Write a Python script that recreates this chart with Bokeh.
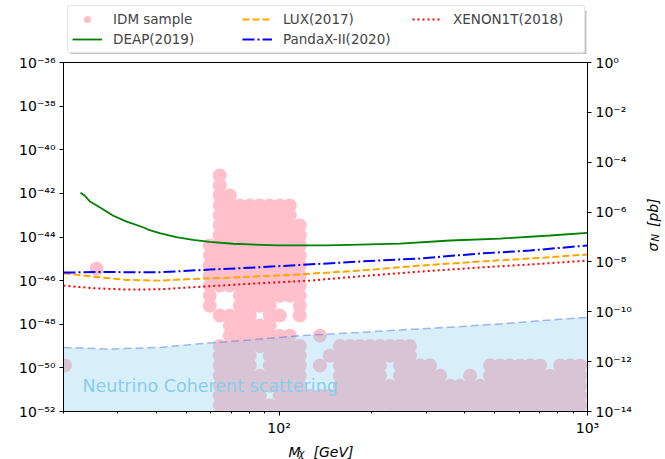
import math
from bokeh.plotting import figure
from bokeh.layouts import column, row
from bokeh.models import (Range1d, LogScale, LogAxis, FixedTicker, Label, Legend,
                          LegendItem, CustomJSTickFormatter)
from bokeh.core.properties import value
from bokeh.embed import file_html
from bokeh.resources import INLINE

# ---------------- data ----------------
x_ticks = [100, 1000]
x_minor_ticks = [20, 30, 40, 50, 60, 70, 80, 90, 200, 300, 400, 500, 600, 700, 800, 900]
y_ticks_cm2 = [1e-52, 1e-50, 1e-48, 1e-46, 1e-44, 1e-42, 1e-40, 1e-38, 1e-36]
y_ticks_pb = [1e-14, 1e-12, 1e-10, 1e-08, 1e-06, 1e-04, 1e-02, 1.0]

deap_mass = [22.7, 23.4, 24.3, 26.2, 28.9, 31.9, 36.2, 37.6, 41.0, 46.4, 52.6, 59.6,
             70.9, 98.1, 142.5, 182.8, 246.6, 358.3, 520.7, 756.7, 1000]
deap_sigma = [1.07e-42, 8.0e-43, 4.4e-43, 2.3e-43, 9.7e-44, 5.2e-44, 2.8e-44, 2.2e-44,
              1.5e-44, 9.8e-45, 7.4e-45, 6.0e-45, 4.9e-45, 4.1e-45, 4.1e-45, 4.5e-45,
              5.0e-45, 6.9e-45, 8.5e-45, 1.17e-44, 1.56e-44]

lux_mass = [20, 24.9, 31.9, 41.0, 52.6, 67.5, 111.0, 182.8, 286.3, 448.3, 651.6, 1000]
lux_sigma = [2.18e-46, 1.53e-46, 1.08e-46, 1.0e-46, 1.2e-46, 1.34e-46, 1.84e-46, 2.9e-46,
             4.9e-46, 7.5e-46, 1.03e-45, 1.57e-45]

pandax_mass = [20, 26.2, 41.0, 59.6, 86.6, 182.8, 286.3, 448.3, 651.6, 1000]
pandax_sigma = [2.34e-46, 2.47e-46, 2.42e-46, 3.2e-46, 4.1e-46, 7.5e-46, 1.03e-45,
                1.75e-45, 2.4e-45, 4.1e-45]

xenon_mass = [20, 24.9, 31.9, 41.0, 52.6, 86.6, 125.8, 182.8, 286.3, 448.3, 651.6, 1000]
xenon_sigma = [5.9e-47, 4.5e-47, 3.9e-47, 4.0e-47, 5.0e-47, 7.6e-47, 1.0e-46, 1.58e-46,
               2.6e-46, 4.0e-46, 5.5e-46, 8.3e-46]

floor_mass = [20, 28.2, 41.0, 55.3, 80.3, 116.7, 169.6, 246.6, 386.2, 548.7, 702.1, 1000]
floor_sigma = [8.7e-50, 7.3e-50, 8.7e-50, 1.29e-49, 1.9e-49, 3.0e-49, 4.0e-49, 5.5e-49,
               7.8e-49, 1.1e-48, 1.46e-48, 2.07e-48]
floor_bottom = 1e-52

# IDM sample points, listed column by column (mass in GeV, sigma in cm^2)
idm_column_mass = [59.6, 64.2, 69.2, 74.6, 80.3, 86.6, 93.3, 100.5, 108.3, 116.7,
                   125.8, 135.6, 146.0, 157.4, 169.6, 182.8, 197.0, 212.3, 228.8, 246.6,
                   265.7, 286.3, 308.6, 332.5, 358.3, 386.2, 416.1, 448.3, 483.2, 520.7,
                   561.0, 604.6, 651.6, 702.1, 756.7, 815.4, 878.6, 946.9]
idm_column_sigma = [
    [4.1e-45, 1.4e-45, 4.9e-46, 1.7e-46, 5.9e-47, 2.0e-47, 7.1e-48],
    [6.6e-42, 2.3e-42, 8.1e-43, 2.8e-43, 9.8e-44, 3.4e-44, 1.2e-44, 4.1e-45, 1.4e-45, 4.9e-46,
     1.7e-46, 5.9e-47, 2.5e-48, 1.0e-49, 3.6e-50, 1.3e-50, 4.4e-51, 1.5e-51, 5.3e-52, 1.9e-52],
    [8.1e-43, 2.8e-43, 9.8e-44, 3.4e-44, 1.2e-44, 4.1e-45, 1.4e-45, 4.9e-46, 1.7e-46, 5.9e-47,
     2.5e-48, 8.7e-49, 3.0e-49, 1.0e-49, 3.6e-50, 1.3e-50, 4.4e-51, 1.5e-51, 5.3e-52, 1.9e-52],
    [2.8e-43, 9.8e-44, 3.4e-44, 1.2e-44, 4.1e-45, 1.4e-45, 4.9e-46, 1.7e-46, 5.9e-47, 2.0e-47,
     7.1e-48, 2.5e-48, 8.7e-49, 3.0e-49, 1.0e-49, 3.6e-50, 1.3e-50, 4.4e-51, 1.5e-51, 5.3e-52, 1.9e-52],
    [2.8e-43, 9.8e-44, 3.4e-44, 1.2e-44, 4.1e-45, 1.4e-45, 4.9e-46, 1.7e-46, 5.9e-47, 2.0e-47,
     7.1e-48, 2.5e-48, 8.7e-49, 3.0e-49, 1.0e-49, 3.6e-50, 1.3e-50, 4.4e-51, 1.5e-51, 5.3e-52, 1.9e-52],
    [2.8e-43, 9.8e-44, 3.4e-44, 1.2e-44, 4.1e-45, 1.4e-45, 4.9e-46, 1.7e-46, 5.9e-47, 2.0e-47,
     7.1e-48, 8.7e-49, 3.0e-49, 1.0e-49, 4.4e-51, 1.5e-51, 5.3e-52, 1.9e-52],
    [2.8e-43, 9.8e-44, 3.4e-44, 1.2e-44, 4.1e-45, 1.4e-45, 4.9e-46, 1.7e-46, 5.9e-47, 2.0e-47,
     7.1e-48, 2.5e-48, 8.7e-49, 3.0e-49, 1.0e-49, 3.6e-50, 1.3e-50, 4.4e-51, 1.5e-51, 1.9e-52],
    [2.8e-43, 9.8e-44, 3.4e-44, 1.2e-44, 4.1e-45, 1.4e-45, 4.9e-46, 1.7e-46, 5.9e-47, 2.0e-47,
     2.5e-48, 3.0e-49, 1.0e-49, 3.6e-50, 1.3e-50, 4.4e-51, 1.5e-51, 5.3e-52, 1.9e-52],
    [2.8e-43, 9.8e-44, 3.4e-44, 1.2e-44, 4.1e-45, 1.4e-45, 4.9e-46, 1.7e-46, 5.9e-47, 2.0e-47,
     3.0e-49, 1.0e-49, 3.6e-50, 1.3e-50, 4.4e-51, 1.5e-51, 5.3e-52, 1.9e-52],
    [3.4e-44, 1.2e-44, 4.1e-45, 1.4e-45, 4.9e-46, 1.7e-46, 5.9e-47, 2.0e-47, 7.1e-48, 2.5e-48,
     1.0e-49, 3.6e-50, 1.3e-50, 4.4e-51, 1.5e-51, 5.3e-52, 1.9e-52],
    [5.3e-52, 1.9e-52],
    [3.0e-49, 1.3e-50, 5.3e-52, 1.9e-52],
    [3.6e-50, 5.3e-52, 1.9e-52],
    [1.0e-49, 3.6e-50, 1.3e-50, 4.4e-51, 1.5e-51, 5.3e-52, 1.9e-52],
    [1.0e-49, 3.6e-50, 1.3e-50, 4.4e-51, 1.5e-51, 5.3e-52, 1.9e-52],
    [1.0e-49, 3.6e-50, 1.3e-50, 4.4e-51, 1.5e-51, 5.3e-52, 1.9e-52],
    [1.0e-49, 3.6e-50, 1.3e-50, 4.4e-51, 1.5e-51, 5.3e-52, 1.9e-52],
    [1.0e-49, 3.6e-50, 1.3e-50, 4.4e-51, 1.5e-51, 5.3e-52, 1.9e-52],
    [1.0e-49, 3.6e-50, 1.5e-51, 5.3e-52, 1.9e-52],
    [1.0e-49, 3.6e-50, 1.3e-50, 4.4e-51, 1.5e-51, 5.3e-52, 1.9e-52],
    [1.0e-49, 3.6e-50, 1.3e-50, 4.4e-51, 1.5e-51, 5.3e-52, 1.9e-52],
    [1.3e-50, 4.4e-51, 1.5e-51, 5.3e-52, 1.9e-52],
    [1.3e-50, 4.4e-51, 1.5e-51, 5.3e-52, 1.9e-52],
    [4.4e-51, 1.5e-51, 5.3e-52, 1.9e-52],
    [1.5e-51, 5.3e-52, 1.9e-52],
    [1.5e-51, 5.3e-52, 1.9e-52],
    [4.4e-51, 1.5e-51, 5.3e-52, 1.9e-52],
    [1.5e-51, 5.3e-52, 1.9e-52],
    [1.3e-50, 4.4e-51, 1.5e-51, 5.3e-52, 1.9e-52],
    [1.3e-50, 4.4e-51, 1.5e-51, 5.3e-52, 1.9e-52],
    [1.3e-50, 4.4e-51, 1.5e-51, 5.3e-52, 1.9e-52],
    [1.3e-50, 4.4e-51, 1.5e-51, 5.3e-52, 1.9e-52],
    [1.3e-50, 4.4e-51, 1.5e-51, 5.3e-52, 1.9e-52],
    [1.3e-50, 4.4e-51, 1.5e-51, 5.3e-52, 1.9e-52],
    [4.4e-51, 1.5e-51, 5.3e-52, 1.9e-52],
    [1.3e-50, 4.4e-51, 1.5e-51, 5.3e-52, 1.9e-52],
    [1.3e-50, 4.4e-51, 1.5e-51, 5.3e-52, 1.9e-52],
    [1.3e-50, 4.4e-51, 1.5e-51, 5.3e-52, 1.9e-52],
]
idm_outlier_mass = [25.6, 20.2]
idm_outlier_sigma = [3.5e-46, 1.3e-50]

idm_mass, idm_sigma = [], []
for m, col in zip(idm_column_mass, idm_column_sigma):
    idm_mass += [m] * len(col)
    idm_sigma += col
idm_mass += idm_outlier_mass
idm_sigma += idm_outlier_sigma

legend_labels = ["IDM sample", "DEAP(2019)", "LUX(2017)", "PandaX-II(2020)", "XENON1T(2018)"]

FONT = "DejaVu Sans"

# ---------------- styles of the series ----------------
idm_style = dict(size=14, fill_color="pink", line_color=None)
deap_style = dict(line_color="green", line_width=1.8)
lux_style = dict(line_color="orange", line_width=2, line_dash="7 3")
pandax_style = dict(line_color="blue", line_width=2, line_dash="12 3 2 3")
xenon_style = dict(line_color="red", line_width=2, line_dash="2 3")

def strip(width, height):
    f = figure(width=width, height=height, x_range=Range1d(0, width), y_range=Range1d(0, height),
               output_backend="svg", toolbar_location=None,
               x_axis_location=None, y_axis_location=None, min_border=0)
    f.grid.visible = False
    f.outline_line_color = None
    f.background_fill_color = "white"
    f.border_fill_color = "white"
    return f

# ---------------- main figure ----------------
p = figure(width=637, height=386, x_axis_type="log", y_axis_type="log",
           x_range=Range1d(20, 1000), y_range=Range1d(1e-52, 1e-36),
           output_backend="svg", toolbar_location=None,
           min_border_left=63, min_border_right=50, min_border_top=8, min_border_bottom=29)
p.grid.visible = False
p.outline_line_color = "black"
p.outline_line_width = 1
p.background_fill_color = "white"
p.border_fill_color = "white"

sup_fmt = CustomJSTickFormatter(code="""
const e = Math.round(Math.log10(tick));
const m = {"-": "\u207b", "0": "\u2070", "1": "\u00b9", "2": "\u00b2", "3": "\u00b3",
           "4": "\u2074", "5": "\u2075", "6": "\u2076", "7": "\u2077", "8": "\u2078", "9": "\u2079"};
return "10" + String(e).split("").map(c => m[c]).join("");
""")

def style_axis(ax):
    ax.axis_line_color = "black"
    ax.major_tick_line_color = "black"
    ax.minor_tick_line_color = "black"
    ax.major_tick_out = 4
    ax.major_tick_in = 0
    ax.minor_tick_out = 2
    ax.minor_tick_in = 0
    ax.major_label_text_font = FONT
    ax.major_label_text_font_size = "14px"
    ax.major_label_text_color = "black"
    ax.major_label_standoff = 4
    ax.formatter = sup_fmt

xa = p.xaxis[0]
xa.ticker = FixedTicker(ticks=x_ticks, minor_ticks=x_minor_ticks)
style_axis(xa)
ya = p.yaxis[0]
ya.ticker = FixedTicker(ticks=y_ticks_cm2, minor_ticks=[])
style_axis(ya)

p.extra_y_ranges = {"pb": Range1d(1e-14, 1.0)}
p.extra_y_scales = {"pb": LogScale()}
ra = LogAxis(y_range_name="pb", ticker=FixedTicker(ticks=y_ticks_pb, minor_ticks=[]))
style_axis(ra)
p.add_layout(ra, "right")

p.scatter(idm_mass, idm_sigma, **idm_style)
p.varea(x=floor_mass, y1=[floor_bottom] * len(floor_mass), y2=floor_sigma,
        fill_color="skyblue", fill_alpha=0.32)
p.line(floor_mass, floor_sigma, line_color="royalblue", line_alpha=0.45,
       line_width=1.5, line_dash="8 4")
p.line(deap_mass, deap_sigma, **deap_style)
p.line(lux_mass, lux_sigma, **lux_style)
p.line(pandax_mass, pandax_sigma, **pandax_style)
p.line(xenon_mass, xenon_sigma, **xenon_style)

p.add_layout(Label(x=23.05, y=5.3e-52, text="Neutrino Coherent scattering",
                   text_font=FONT, text_font_size="17.5px", text_color="skyblue"))

# ---------------- top strip: legend (proxy glyphs lie outside the strip's view) ----------------
tfig = strip(665, 54)
tfig.quad(left=[70], right=[586], top=[44], bottom=[-3], fill_color="black",
          fill_alpha=0.22, line_color=None)
k_idm = tfig.scatter(x=[-100], y=[-100], **idm_style)
k_deap = tfig.line(x=[-100, -90], y=[-100, -100], **deap_style)
k_lux = tfig.line(x=[-100, -90], y=[-100, -100], **lux_style)
k_pandax = tfig.line(x=[-100, -90], y=[-100, -100], **pandax_style)
k_xenon = tfig.line(x=[-100, -90], y=[-100, -100], **xenon_style)
legend = Legend(items=[LegendItem(label=lab, renderers=[r]) for lab, r in
                       zip(legend_labels, [k_idm, k_deap, k_lux, k_pandax, k_xenon])],
                location=(67, 1))
props = Legend.properties()
if "ncols" in props:
    legend.ncols = 3
legend.orientation = "vertical"
legend.label_text_font = FONT
legend.label_text_font_size = "13.5px"
legend.glyph_width = 30
legend.glyph_height = 18
legend.label_height = 18
legend.label_width = 127
legend.label_standoff = 11
legend.spacing = 2
legend.padding = 4
legend.margin = 0
legend.border_line_color = "#cccccc"
legend.border_line_width = 1
legend.background_fill_alpha = 1.0
if "border_radius" in props:
    legend.border_radius = 3
tfig.add_layout(legend)

# ---------------- right strip: sigma_N [pb] ----------------
rfig = strip(28, 386)
txt = dict(text_font=value(FONT), text_font_style=value("italic"), text_align=value("left"),
           text_baseline=value("alphabetic"), text_color="black")
rfig.text(x=[15], y=[177], text=["σ"], angle=math.pi / 2, text_font_size=value("14px"), **txt)
rfig.text(x=[18], y=[188], text=["N"], angle=math.pi / 2, text_font_size=value("10px"), **txt)
rfig.text(x=[15], y=[204], text=["[pb]"], angle=math.pi / 2, text_font_size=value("14px"), **txt)

# ---------------- bottom strip: M_chi [GeV] ----------------
bfig = strip(665, 19)
bfig.text(x=[288], y=[8], text=["M"], text_font_size=value("14px"), **txt)
bfig.text(x=[298], y=[6], text=["χ"], text_font_size=value("10px"), **txt)
bfig.text(x=[313], y=[8], text=["[GeV]"], text_font_size=value("14px"), **txt)

layout = column(tfig, row(p, rfig), bfig)
open("out.html", "w").write(file_html(layout, INLINE))
